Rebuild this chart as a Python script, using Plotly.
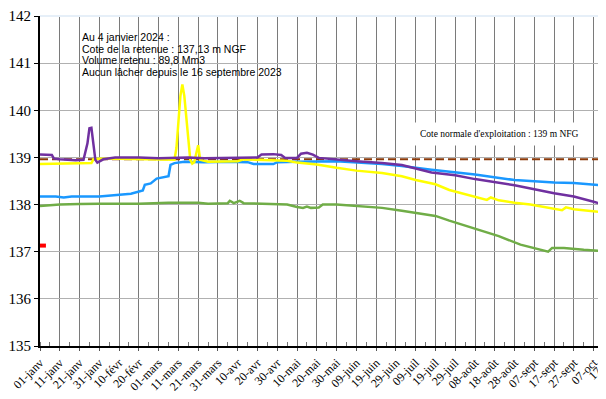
import plotly.graph_objects as go

# Day offsets from 1 January (2024, leap year) and levels in m NGF
purple_days = [0, 6, 7, 10, 18, 22, 24, 25, 26, 27, 28, 29, 32, 38, 50, 60, 70, 75, 83, 100, 110, 112, 118, 122, 124, 130, 132, 135, 138, 141, 150, 160, 173, 183, 198, 210, 220, 240, 260, 270, 280, 286]
purple_vals = [139.06, 139.05, 138.98, 138.96, 138.94, 138.95, 139.3, 139.62, 139.63, 139.3, 138.95, 138.89, 138.96, 139.0, 139.0, 138.98, 138.99, 139.0, 138.98, 139.0, 139.0, 139.06, 139.07, 139.05, 138.99, 138.99, 139.08, 139.1, 139.06, 138.99, 138.95, 138.92, 138.88, 138.84, 138.68, 138.62, 138.54, 138.41, 138.24, 138.17, 138.06, 137.99]

yellow_days = [0, 10, 20, 26, 27, 30, 40, 50, 60, 68, 69, 71, 72, 73, 75, 76, 77, 78, 80, 81, 85, 100, 103, 110, 125, 130, 140, 150, 160, 173, 183, 190, 200, 207, 215, 226, 228, 232, 240, 248, 264, 266, 270, 280, 286]
yellow_vals = [138.86, 138.87, 138.87, 138.88, 138.96, 138.97, 138.97, 138.96, 138.95, 138.95, 139.2, 140.3, 140.55, 140.3, 139.4, 138.95, 138.87, 138.9, 139.26, 138.95, 138.91, 138.92, 138.96, 138.95, 138.93, 138.89, 138.85, 138.78, 138.72, 138.67, 138.6, 138.52, 138.43, 138.31, 138.22, 138.1, 138.15, 138.09, 138.04, 138.0, 137.88, 137.94, 137.9, 137.86, 137.83]

blue_days = [0, 8, 12, 16, 30, 40, 46, 52, 53, 56, 59, 65, 66, 68, 73, 83, 95, 105, 108, 118, 120, 130, 150, 173, 183, 198, 220, 240, 250, 260, 270, 280, 286]
blue_vals = [138.17, 138.17, 138.15, 138.17, 138.17, 138.2, 138.23, 138.3, 138.42, 138.45, 138.55, 138.6, 138.84, 138.88, 138.91, 138.9, 138.91, 138.9, 138.86, 138.86, 138.9, 138.91, 138.92, 138.86, 138.82, 138.74, 138.64, 138.52, 138.49, 138.47, 138.46, 138.42, 138.4]

green_days = [0, 10, 20, 30, 50, 65, 80, 85, 95, 96, 98, 101, 103, 115, 125, 130, 133, 135, 137, 141, 143, 150, 167, 173, 183, 190, 200, 207, 220, 232, 243, 250, 257, 259, 265, 275, 286]
green_vals = [137.97, 138.0, 138.01, 138.02, 138.02, 138.04, 138.04, 138.02, 138.03, 138.08, 138.03, 138.08, 138.03, 138.02, 138.0, 137.95, 137.93, 137.96, 137.93, 137.94, 138.0, 138.0, 137.96, 137.93, 137.87, 137.83, 137.76, 137.66, 137.48, 137.33, 137.15, 137.07, 137.0, 137.08, 137.08, 137.04, 137.01]

red_days = [0, 3]
red_vals = [137.13, 137.13]

normal_level = 138.96
x_end = 286.25

tick_days = list(range(0, 300, 10))
tick_labels = ["01-janv", "11-janv", "21-janv", "31-janv", "10-févr", "20-févr", "01-mars", "11-mars",
               "21-mars", "31-mars", "10-avr", "20-avr", "30-avr", "10-mai", "20-mai", "30-mai",
               "09-juin", "19-juin", "29-juin", "09-juil", "19-juil", "29-juil", "08-août", "18-août",
               "28-août", "07-sept", "17-sept", "27-sept", "07-oct", "17-oct"]

info_lines = ["Au 4 janvier 2024 :", "Cote de la retenue : 137,13 m NGF", "Volume retenu : 89,8 Mm3",
              "Aucun lâcher depuis le 16 septembre 2023"]
normal_label = "Cote normale d'exploitation : 139 m NFG"

# page body has an 8px margin: figure placed at (8, 8)
OFF = 8
W, H = 606 - OFF, 399 - OFF
L, T, B = 34 - OFF, 16 - OFF, 53
PW, PH = W - L, H - T - B


def px(xp):
    return (xp - 34) / PW


def py(yp):
    return (346 - yp) / PH


fig = go.Figure()
fig.add_trace(go.Scatter(x=[0, x_end], y=[normal_level, normal_level], mode="lines",
                         line=dict(color="#8B3A0A", width=2, dash="8px,4px"), hoverinfo="skip"))
for d, v, c, w in [(green_days, green_vals, "#70AD47", 2.5), (blue_days, blue_vals, "#1A98FF", 2.5),
                   (yellow_days, yellow_vals, "#FFFF00", 2.5), (purple_days, purple_vals, "#7030A0", 2.5),
                   (red_days, red_vals, "#FF0000", 4)]:
    fig.add_trace(go.Scatter(x=d, y=v, mode="lines", line=dict(color=c, width=w), cliponaxis=False))

annotations = []
for i, t in enumerate(info_lines):
    annotations.append(dict(xref="paper", yref="paper", x=px(74), y=py(37 + 11.7 * i), xanchor="left",
                            yanchor="middle", showarrow=False, text=t,
                            font=dict(family="Liberation Sans", size=10.5, color="black")))
annotations.append(dict(xref="paper", yref="paper", x=px(498), y=py(134), xanchor="center", yanchor="middle",
                        showarrow=False, text=normal_label, bgcolor="white", borderpad=6,
                        font=dict(family="Liberation Serif", size=9.5, color="black")))
annotations.append(dict(xref="paper", yref="paper", x=px(620), y=py(348), xanchor="right", yanchor="top",
                        showarrow=False, text=tick_labels[-1], textangle=-45,
                        font=dict(family="Liberation Serif", size=12, color="black")))

fig.update_layout(
    width=W, height=H,
    margin=dict(l=L, r=0, t=T, b=B),
    paper_bgcolor="white", plot_bgcolor="white",
    showlegend=False,
    xaxis=dict(range=[0, x_end], tickmode="array", tickvals=tick_days, ticktext=tick_labels,
               tickangle=-45, showgrid=True, gridcolor="#7a7a7a", gridwidth=1,
               showline=True, linecolor="black", linewidth=2, zeroline=False,
               ticks="outside", ticklen=3, tickcolor="#555",
               minor=dict(ticks="inside", ticklen=4, tickcolor="#777", dtick=5, tick0=0, showgrid=False),
               tickfont=dict(family="Liberation Serif", size=12, color="black")),
    yaxis=dict(range=[135, 142], dtick=1, showgrid=True, gridcolor="#b0b0b0", gridwidth=1,
               showline=True, linecolor="black", linewidth=2, zeroline=False,
               ticks="outside", ticklen=4, tickcolor="black",
               tickfont=dict(family="Liberation Serif", size=15, color="black")),
    shapes=[dict(type="line", xref="paper", yref="paper", x0=0, x1=1, y0=1, y1=1,
                 line=dict(color="#e6eff8", width=2), layer="above")],
    annotations=annotations,
)

fig.write_html("out.html")
